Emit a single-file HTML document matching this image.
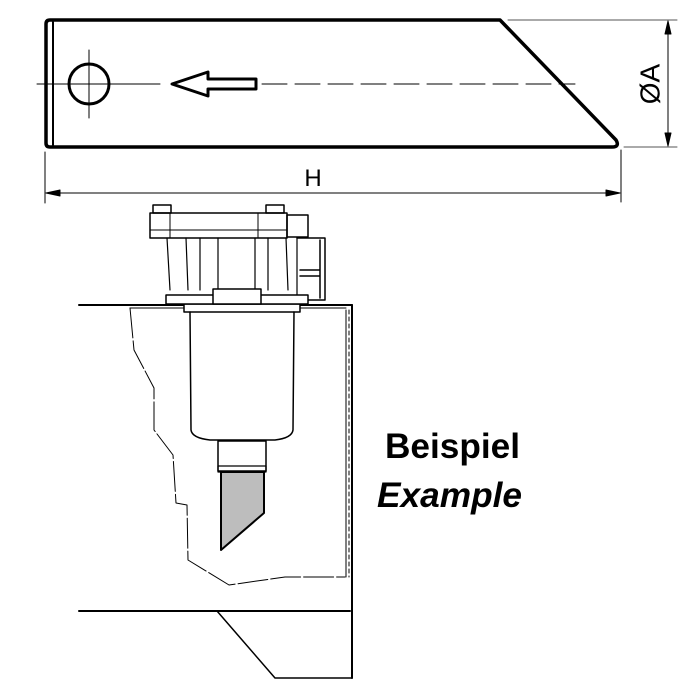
<!DOCTYPE html>
<html><head><style>
html,body{margin:0;padding:0;background:#fff;}
svg{display:block;}
text{font-family:"Liberation Sans",sans-serif;}
</style></head><body>
<svg width="700" height="700" viewBox="0 0 700 700" xmlns="http://www.w3.org/2000/svg">
<g fill="none" stroke="#000" stroke-linecap="round" stroke-linejoin="round">
<path d="M50,20 L500,20 L616,140 Q620,147 612,147 L50,147 Q46,147 46,143 L46,24 Q46,20 50,20 Z" stroke-width="3.5"/>
<line x1="53" y1="22" x2="53" y2="145" stroke-width="2"/>
<circle cx="89" cy="84" r="20" stroke-width="3"/>
<line x1="89" y1="50" x2="89" y2="118" stroke-width="1"/>
<line x1="37" y1="84" x2="160" y2="84" stroke-width="1"/>
<line x1="262" y1="84" x2="575" y2="84" stroke-width="1" stroke-dasharray="25,8"/>
<path d="M172,84 L208,72 L208,79 L256,79 L256,89 L208,89 L208,96 Z" stroke-width="3"/>
<line x1="508" y1="20" x2="677" y2="20" stroke="#555" stroke-width="1"/>
<line x1="624" y1="147" x2="677" y2="147" stroke="#555" stroke-width="1"/>
<line x1="668" y1="22" x2="668" y2="145" stroke-width="1"/>
<path d="M668,21 L665,34 L671,34 Z M668,146 L665,133 L671,133 Z" fill="#000"/>
<line x1="45" y1="152" x2="45" y2="203" stroke-width="1"/>
<line x1="621" y1="150" x2="621" y2="202" stroke-width="1"/>
<line x1="47" y1="193" x2="619" y2="193" stroke-width="1"/>
<path d="M46,193 L60,190 L60,196 Z M620,193 L606,190 L606,196 Z" fill="#000"/>

<line x1="79" y1="305" x2="352" y2="305" stroke-width="2"/>
<line x1="130" y1="308" x2="346" y2="308" stroke-width="1"/>
<line x1="352" y1="305" x2="352" y2="678" stroke-width="2"/>
<line x1="346" y1="310" x2="346" y2="577" stroke-width="1"/>
<line x1="349" y1="310" x2="349" y2="577" stroke-width="1" stroke-dasharray="4,3"/>
<line x1="79" y1="611" x2="350" y2="611" stroke-width="2"/>
<path d="M217,611 L275,678 L352,678" stroke-width="1.5"/>
<path d="M130,308 L134,350 L154,388 L154,430 L173,455 L176,503 L187,505 L188,560 L229,585 L285,577 L345,577" stroke-width="1" stroke-dasharray="30,3"/>
<rect x="184" y="304" width="116" height="8" stroke-width="1.5" fill="#fff"/>
<path d="M190,312 L191,430 Q192,438 210,440 L275,440 Q292,438 293,430 L294,312" stroke-width="1.5"/>
<rect x="218" y="441" width="48" height="30" stroke-width="1.5"/>
<rect x="218" y="466" width="48" height="6" stroke-width="1.2"/>
<path d="M221,472 L264,472 L264,513 L221,550 Z" fill="#bdbdbd" stroke-width="2"/>
<rect x="150" y="213" width="137" height="25" stroke-width="1.5" fill="#fff"/>
<line x1="150" y1="230" x2="287" y2="230" stroke-width="1"/>
<line x1="170" y1="213" x2="170" y2="238" stroke-width="1"/>
<line x1="258" y1="213" x2="258" y2="238" stroke-width="1"/>
<rect x="287" y="215" width="21" height="22" stroke-width="1.5"/>
<rect x="153" y="205" width="18" height="8" stroke-width="1.5"/>
<rect x="266" y="205" width="18" height="8" stroke-width="1.5"/>
<path d="M167,238 L170,290 M186,238 L188,290 M200,238 L200,290 M218,238 L218,290 M255,238 L255,290 M268,238 L268,290 M286,238 L288,290 M297,238 L297,300" stroke-width="1.2"/>
<path d="M297,238 L325,238 L325,300 L297,300 M320,240 L320,298 M300,270 L320,270 M300,276 L320,276" stroke-width="1.5"/>
<rect x="166" y="295" width="142" height="9" stroke-width="1.5" fill="#fff"/>
<rect x="213" y="289" width="48" height="15" stroke-width="1.5" fill="#fff"/>
</g>
<text x="650" y="84" font-size="28" text-anchor="middle" dominant-baseline="central" transform="rotate(-90 650 84)">ØA</text>
<text x="313" y="186" font-size="24" text-anchor="middle">H</text>
<text x="385" y="458" font-size="35" font-weight="bold" textLength="135" lengthAdjust="spacingAndGlyphs">Beispiel</text>
<text x="377" y="507" font-size="35" font-weight="bold" font-style="italic" textLength="145" lengthAdjust="spacingAndGlyphs">Example</text>
</svg>
</body></html>
